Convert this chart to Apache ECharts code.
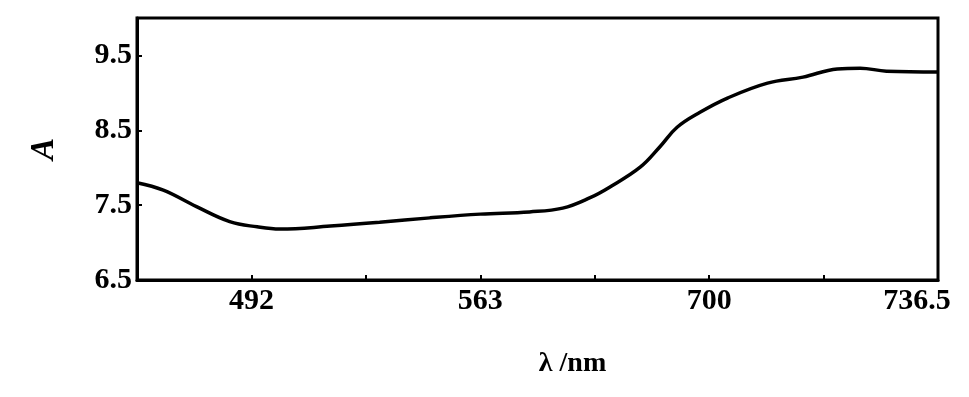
<!DOCTYPE html>
<html>
<head>
<meta charset="utf-8">
<script src="https://cdn.jsdelivr.net/npm/echarts@6/dist/echarts.min.js"></script>
<style>html,body{margin:0;padding:0;background:#fff}#c{width:969px;height:397px}</style>
</head>
<body>
<div id="c"></div>
<script>
// x positions in evenly spaced axis units (0..7), tick labels at positions 1,3,5,7
var xPos = [0, 0.23, 0.52, 0.81, 1.05, 1.25, 1.69, 2.12, 2.56, 3.0, 3.43, 3.72, 3.96, 4.13, 4.40, 4.57, 4.72, 4.92, 5.16, 5.51, 5.82, 6.12, 6.32, 6.55, 7.0];
var aValues = [7.80, 7.70, 7.48, 7.28, 7.21, 7.18, 7.22, 7.27, 7.33, 7.38, 7.41, 7.46, 7.60, 7.74, 8.01, 8.28, 8.54, 8.74, 8.93, 9.13, 9.21, 9.32, 9.33, 9.29, 9.28];
var xTickPositions = [1, 3, 5, 7];
var xTickLabels = ['492', '563', '700', '736.5'];
var yTickValues = [6.5, 7.5, 8.5, 9.5];

var font = 'Liberation Serif';
var data = xPos.map(function (x, i) { return [x, aValues[i]]; });

var chart = echarts.init(document.getElementById('c'));
chart.setOption({
  animation: false,
  backgroundColor: '#fff',
  grid: { left: 137, right: 31, top: 18, bottom: 117, show: true, borderColor: '#000', borderWidth: 3 },
  xAxis: {
    type: 'value', min: 0, max: 7,
    splitLine: { show: false },
    axisLine: { show: true, lineStyle: { color: '#000', width: 3 } },
    axisTick: { show: true, inside: true, length: 5, customValues: [1, 2, 3, 4, 5, 6], lineStyle: { color: '#000', width: 2 } },
    axisLabel: {
      customValues: xTickPositions,
      margin: 6,
      color: '#000', fontFamily: font, fontWeight: 'bold', fontSize: 30,
      formatter: function (v) {
        var i = xTickPositions.indexOf(v);
        if (i < 0) return '';
        if (i === xTickPositions.length - 1) return '{e|' + xTickLabels[i] + '}';
        return xTickLabels[i];
      },
      rich: { e: { fontFamily: font, fontWeight: 'bold', fontSize: 30, color: '#000', padding: [0, 42, 0, 0] } }
    },
    name: 'λ /nm', nameLocation: 'middle', nameGap: 70,
    nameTextStyle: { color: '#000', fontFamily: font, fontWeight: 'bold', fontSize: 28, padding: [0, 0, 0, 70] }
  },
  yAxis: {
    type: 'value', min: 6.5, max: 10,
    splitLine: { show: false },
    axisLine: { show: true, lineStyle: { color: '#000', width: 3 } },
    axisTick: { show: true, inside: true, length: 5, customValues: yTickValues, lineStyle: { color: '#000', width: 2 } },
    axisLabel: {
      customValues: yTickValues, margin: 5,
      color: '#000', fontFamily: font, fontWeight: 'bold', fontSize: 30,
      formatter: function (v) { return v.toFixed(1); }
    },
    name: 'A', nameLocation: 'middle', nameGap: 76, nameRotate: 90,
    nameTextStyle: { color: '#000', fontFamily: font, fontWeight: 'bold', fontStyle: 'italic', fontSize: 33 }
  },
  series: [{
    type: 'line', data: data, smooth: 0.4, showSymbol: false,
    lineStyle: { color: '#000', width: 3.5 }
  }]
});
</script>
</body>
</html>
